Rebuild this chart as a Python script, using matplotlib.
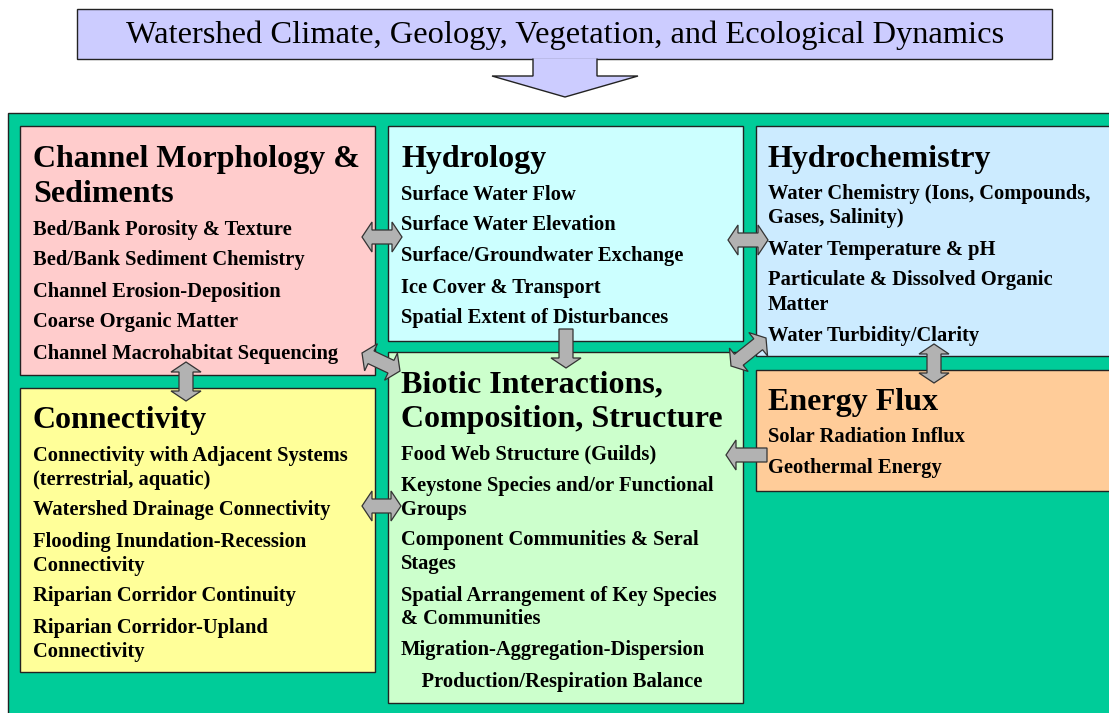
import numpy as np
import matplotlib
matplotlib.use("Agg")
import matplotlib.pyplot as plt
from matplotlib.patches import Rectangle, Polygon

# --- text content ---
title = "Watershed Climate, Geology, Vegetation, and Ecological Dynamics"

channel_head = ["Channel Morphology &", "Sediments"]
channel_items = [["Bed/Bank Porosity & Texture"],
                 ["Bed/Bank Sediment Chemistry"],
                 ["Channel Erosion-Deposition"],
                 ["Coarse Organic Matter"],
                 ["Channel Macrohabitat Sequencing"]]

hydro_head = ["Hydrology"]
hydro_items = [["Surface Water Flow"],
               ["Surface Water Elevation"],
               ["Surface/Groundwater Exchange"],
               ["Ice Cover & Transport"],
               ["Spatial Extent of Disturbances"]]

chem_head = ["Hydrochemistry"]
chem_items = [["Water Chemistry (Ions, Compounds,", "Gases, Salinity)"],
              ["Water Temperature & pH"],
              ["Particulate & Dissolved Organic", "Matter"],
              ["Water Turbidity/Clarity"]]

conn_head = ["Connectivity"]
conn_items = [["Connectivity with Adjacent Systems", "(terrestrial, aquatic)"],
              ["Watershed Drainage Connectivity"],
              ["Flooding Inundation-Recession", "Connectivity"],
              ["Riparian Corridor Continuity"],
              ["Riparian Corridor-Upland", "Connectivity"]]

biotic_head = ["Biotic Interactions,", "Composition, Structure"]
biotic_items = [["Food Web Structure (Guilds)"],
                ["Keystone Species and/or Functional", "Groups"],
                ["Component Communities & Seral", "Stages"],
                ["Spatial Arrangement of Key Species", "& Communities"],
                ["Migration-Aggregation-Dispersion"],
                ["    Production/Respiration Balance"]]

energy_head = ["Energy Flux"]
energy_items = [["Solar Radiation Influx"],
                ["Geothermal Energy"]]

FONT = ["Liberation Serif", "DejaVu Serif"]
GREEN = "#00CC99"
ARROW = "#B2B2B2"


def block_arrow(ax, p0, p1, double=True, shaft=14, head_w=30, head_l=10):
    p0, p1 = np.array(p0, float), np.array(p1, float)
    d = p1 - p0
    L = np.hypot(*d)
    u = d / L
    n = np.array([-u[1], u[0]])
    hs, hw = shaft / 2, head_w / 2
    if double:
        pts = [(0, 0), (head_l, hw), (head_l, hs), (L - head_l, hs), (L - head_l, hw),
               (L, 0), (L - head_l, -hw), (L - head_l, -hs), (head_l, -hs), (head_l, -hw)]
    else:
        pts = [(0, hs), (L - head_l, hs), (L - head_l, hw), (L, 0),
               (L - head_l, -hw), (L - head_l, -hs), (0, -hs)]
    xy = [p0 + s * u + t * n for s, t in pts]
    ax.add_patch(Polygon(xy, closed=True, fc=ARROW, ec="#333333", lw=0.9, zorder=6))


def panel(ax, x0, y0, x1, y1, color, head, items, tx, ty, hsize=23, isize=14.8):
    # ty is the centre of the first heading line; text is placed on baselines
    ax.add_patch(Rectangle((x0, y0), x1 - x0, y1 - y0, fc=color, ec="#222222", lw=1.0, zorder=2))
    y = ty
    for line in head:
        ax.text(tx, y + 10, line, fontsize=hsize, fontweight="bold", family=FONT,
                va="baseline", ha="left", zorder=4)
        y += 35
    y += 1
    for item in items:
        for k, line in enumerate(item):
            ax.text(tx, y + 24 * k + 6.5, line, fontsize=isize, fontweight="bold", family=FONT,
                    va="baseline", ha="left", zorder=4)
        y += 31 + 24 * (len(item) - 1)


fig = plt.figure(figsize=(11.09, 7.13), dpi=100)
ax = fig.add_axes([0, 0, 1, 1])
ax.set_xlim(0, 1109)
ax.set_ylim(713, 0)
ax.axis("off")

# title box and arrow
ax.add_patch(Rectangle((77, 9), 975, 50, fc="#CCCCFF", ec="#222222", lw=1.0, zorder=2))
ax.text(565, 43, title, fontsize=23.4, family=FONT, ha="center", va="baseline", zorder=4)
ax.add_patch(Polygon([(533, 58.5), (533, 76), (492, 76), (565, 97), (638, 76), (597, 76), (597, 58.5)],
                     closed=False, fc="#CCCCFF", ec="#222222", lw=1.0, zorder=3))

# green background
ax.add_patch(Rectangle((8, 113), 1120, 620, fc=GREEN, ec="#222222", lw=1.0, zorder=1))

panel(ax, 20, 126, 375, 375, "#FFCCCC", channel_head, channel_items, 33, 157)
panel(ax, 388, 126, 743, 341, "#CCFFFF", hydro_head, hydro_items, 401, 157)
panel(ax, 756, 126, 1125, 356, "#CCEBFF", chem_head, chem_items, 768, 157)
panel(ax, 20, 388, 375, 672, "#FFFF99", conn_head, conn_items, 33, 418)
panel(ax, 388, 352, 743, 703, "#CCFFCC", biotic_head, biotic_items, 401, 382)
panel(ax, 756, 370, 1125, 491, "#FFCC99", energy_head, energy_items, 768, 400)

# connecting arrows
block_arrow(ax, (362, 237), (402, 237))
block_arrow(ax, (728, 240), (768, 240))
block_arrow(ax, (566, 329), (566, 368), double=False)
block_arrow(ax, (362, 353), (400, 371))
block_arrow(ax, (731, 366), (766, 338))
block_arrow(ax, (934, 344), (934, 383))
block_arrow(ax, (186, 362), (186, 401))
block_arrow(ax, (362, 506), (401, 506))
block_arrow(ax, (767, 455), (726, 455), double=False)

fig.savefig("out.png", dpi=100)
